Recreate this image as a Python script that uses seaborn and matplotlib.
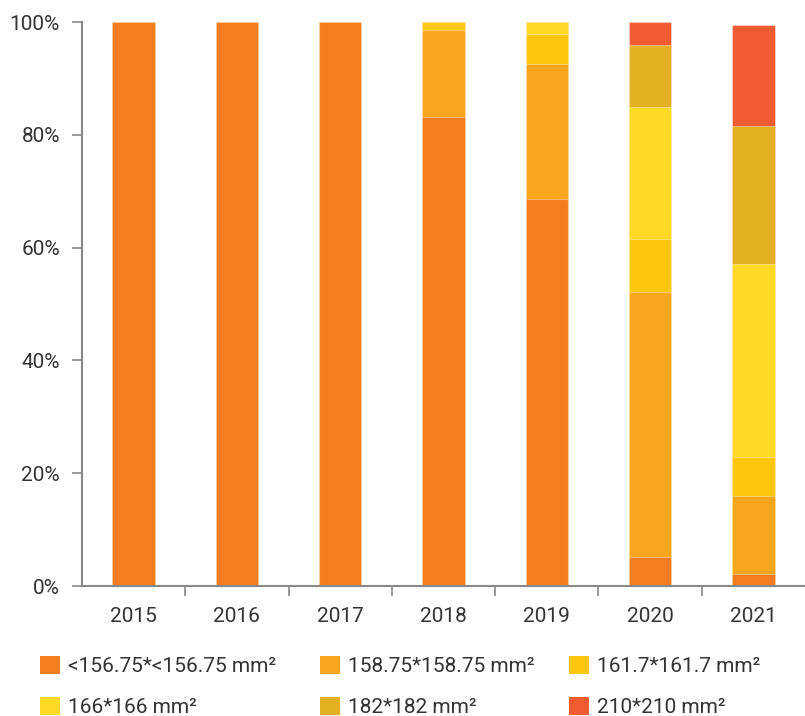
import matplotlib
matplotlib.use("Agg")
import matplotlib.pyplot as plt
from matplotlib.patches import Patch
from matplotlib.ticker import FixedLocator, PercentFormatter
import seaborn as sns
import pandas as pd
import numpy as np

years = ["2015", "2016", "2017", "2018", "2019", "2020", "2021"]
series_names = ["<156.75*<156.75 mm²", "158.75*158.75 mm²", "161.7*161.7 mm²",
                "166*166 mm²", "182*182 mm²", "210*210 mm²"]
s1 = [100.0, 100.0, 100.0, 83.2, 68.6, 5.1, 2.1]
s2 = [0.0, 0.0, 0.0, 15.4, 23.9, 47.0, 13.9]
s3 = [0.0, 0.0, 0.0, 1.4, 5.4, 9.4, 6.9]
s4 = [0.0, 0.0, 0.0, 0.0, 2.1, 23.5, 34.2]
s5 = [0.0, 0.0, 0.0, 0.0, 0.0, 10.9, 24.5]
s6 = [0.0, 0.0, 0.0, 0.0, 0.0, 4.1, 17.9]
colors = ["#F37E21", "#F9A61E", "#FEC60F", "#FED925", "#E5B123", "#F05B32"]

sns.set_theme(style="white")
plt.rcParams["font.family"] = ["Roboto", "DejaVu Sans"]

W, H = 805, 716
fig = plt.figure(figsize=(W / 100, H / 100), dpi=100)
ax = fig.add_axes([82 / W, 130 / H, (W - 82) / W, (586 - 22) / H])

all_series = [s1, s2, s3, s4, s5, s6]
cum = np.cumsum(np.array(all_series), axis=0)
for k in range(len(all_series) - 1, -1, -1):
    df = pd.DataFrame({"year": years, "value": cum[k]})
    sns.barplot(data=df, x="year", y="value", color=colors[k], width=0.41,
                saturation=1, edgecolor=(1, 1, 1, 0.35), linewidth=0.8, ax=ax)

ax.set_xlim(-0.5, 6.5)
ax.set_ylim(0, 100)
ax.set_xlabel("")
ax.set_ylabel("")
ax.yaxis.set_major_formatter(PercentFormatter(decimals=0))
ax.set_yticks([0, 20, 40, 60, 80, 100])

for side in ["top", "right"]:
    ax.spines[side].set_visible(False)
spine_c = "#888888"
for side in ["left", "bottom"]:
    ax.spines[side].set_color(spine_c)
    ax.spines[side].set_linewidth(1.5)

txt_c = "#333333"
fs = 15
ax.tick_params(axis="y", which="major", length=7.2, width=1.2, color=spine_c,
               labelsize=fs, labelcolor=txt_c, pad=8.6, left=True)
ax.tick_params(axis="x", which="major", length=0, labelsize=fs,
               labelcolor=txt_c, pad=15)
ax.xaxis.set_minor_locator(FixedLocator([0.5, 1.5, 2.5, 3.5, 4.5, 5.5]))
ax.tick_params(axis="x", which="minor", length=7.5, width=1.2, color=spine_c,
               bottom=True, direction="out")

# legend: three columns, two rows (row-wise order), fixed column positions
col_x = [40, 320, 569]
for c in range(3):
    idx = [c, c + 3]
    hs = [Patch(facecolor=colors[i], edgecolor="none") for i in idx]
    fig.legend(hs, [series_names[i] for i in idx], loc="upper left",
               bbox_to_anchor=(col_x[c] / W, 1 - 656 / H), frameon=False,
               fontsize=fs, handlelength=0.95, handleheight=0.95,
               handletextpad=0.38, labelspacing=0.98, borderpad=0,
               borderaxespad=0, labelcolor=txt_c)

fig.savefig("out.png", dpi=100)
